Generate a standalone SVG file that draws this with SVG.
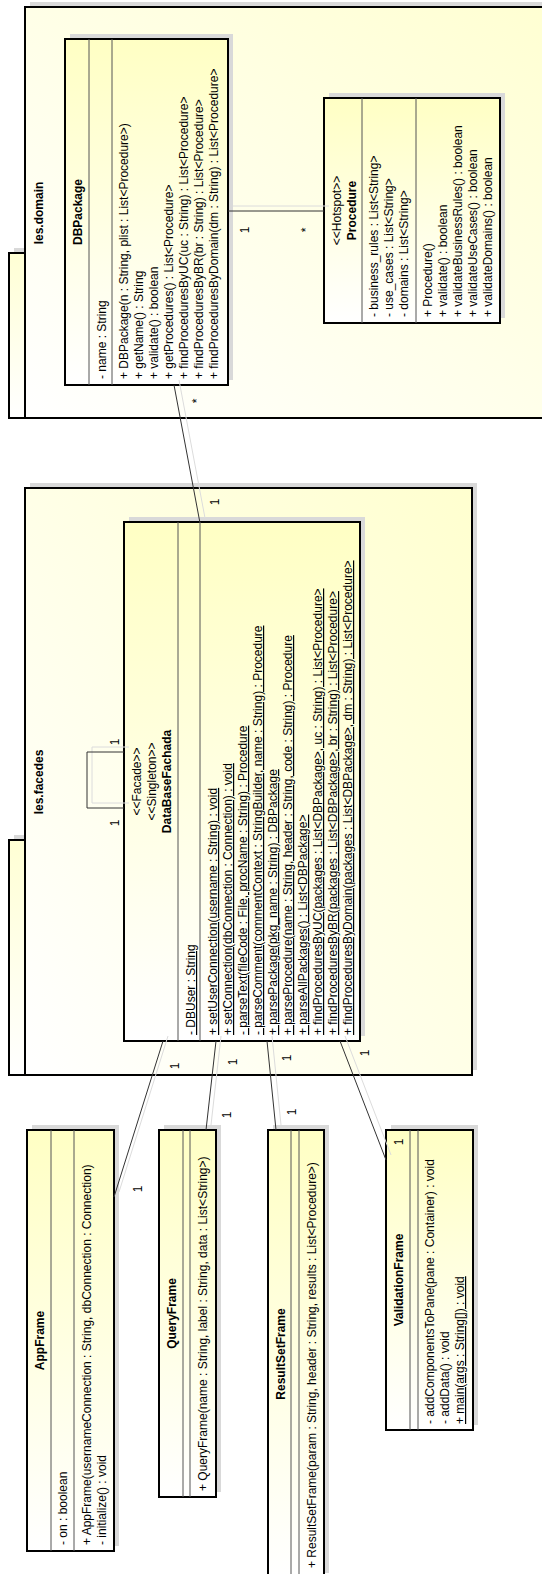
<svg xmlns="http://www.w3.org/2000/svg" width="542" height="1574" viewBox="0 0 542 1574">
<defs>
<linearGradient id="gp" x1="0" y1="0" x2="1" y2="1"><stop offset="0" stop-color="#ffffff"/><stop offset="1" stop-color="#ffffcf"/></linearGradient>
<linearGradient id="gt" x1="0" y1="0" x2="1" y2="0"><stop offset="0" stop-color="#ffffff"/><stop offset="1" stop-color="#ffffd4"/></linearGradient>
<linearGradient id="gc" x1="0" y1="0" x2="1" y2="0"><stop offset="0" stop-color="#ffffff"/><stop offset="1" stop-color="#ffffc4"/></linearGradient>
<style>
text{font-family:"Liberation Sans",Arial,sans-serif;font-size:12px;fill:#000}
.n{font-weight:bold;text-anchor:middle}
.s{text-anchor:middle}
.u{text-decoration:underline}
.pk{fill:url(#gp);stroke:#000;stroke-width:2}
.tab{fill:url(#gt);stroke:#000;stroke-width:2}
.cl{fill:url(#gc);stroke:#000;stroke-width:2}
.sh{fill:#d9d9d9;stroke:none}
.dv{stroke:#555;stroke-width:1}
.c{stroke:#333;stroke-width:1;fill:none}
.cs{stroke:#dcdcdc;stroke-width:1;fill:none}
</style>
</defs>
<g transform="translate(0,1574) rotate(-90)">
<g id="pkg-domain">
<rect class="sh" x="1161" y="14" width="165" height="16"/>
<rect class="sh" x="1161" y="30" width="411" height="600"/>
<rect class="tab" x="1156" y="9" width="165" height="16"/>
<rect class="pk" x="1156" y="25" width="411" height="600"/>
<text class="n" x="1361" y="43">les.domain</text>
</g>
<g id="pkg-facedes">
<rect class="sh" x="504" y="14" width="235" height="16"/>
<rect class="sh" x="504" y="30" width="587" height="447"/>
<rect class="tab" x="499" y="9" width="235" height="16"/>
<rect class="pk" x="499" y="25" width="587" height="447"/>
<text class="n" x="792" y="43">les.facedes</text>
</g>
<g id="DBPackage">
<rect class="sh" x="1194" y="70" width="346" height="163"/>
<rect class="cl" x="1189" y="65" width="346" height="163"/>
<line class="dv" x1="1189" y1="89" x2="1535" y2="89"/>
<line class="dv" x1="1189" y1="112" x2="1535" y2="112"/>
<text class="n" x="1362" y="82">DBPackage</text>
<text x="1195" y="106">- name : String</text>
<text x="1195" y="128">+ DBPackage(n : String, plist : List&lt;Procedure&gt;)</text>
<text x="1195" y="143">+ getName() : String</text>
<text x="1195" y="158">+ validate() : boolean</text>
<text x="1195" y="173">+ getProcedures() : List&lt;Procedure&gt;</text>
<text x="1195" y="188">+ findProceduresByUC(uc : String) : List&lt;Procedure&gt;</text>
<text x="1195" y="203">+ findProceduresByBR(br : String) : List&lt;Procedure&gt;</text>
<text x="1195" y="218">+ findProceduresByDomain(dm : String) : List&lt;Procedure&gt;</text>
</g>
<g id="Procedure">
<rect class="sh" x="1256" y="329" width="225" height="176"/>
<rect class="cl" x="1251" y="324" width="225" height="176"/>
<line class="dv" x1="1251" y1="362" x2="1476" y2="362"/>
<line class="dv" x1="1251" y1="416" x2="1476" y2="416"/>
<text class="s" x="1363.5" y="341">&lt;&lt;Hotspot&gt;&gt;</text>
<text class="n" x="1363.5" y="356">Procedure</text>
<text x="1257" y="378">- business_rules : List&lt;String&gt;</text>
<text x="1257" y="393">- use_cases : List&lt;String&gt;</text>
<text x="1257" y="408">- domains : List&lt;String&gt;</text>
<text x="1257" y="432">+ Procedure()</text>
<text x="1257" y="447">+ validate() : boolean</text>
<text x="1257" y="462">+ validateBusinessRules() : boolean</text>
<text x="1257" y="477">+ validateUseCases() : boolean</text>
<text x="1257" y="492">+ validateDomains() : boolean</text>
</g>
<g id="DataBaseFachada">
<rect class="sh" x="538" y="129" width="519" height="236"/>
<rect class="cl" x="533" y="124" width="519" height="236"/>
<line class="dv" x1="533" y1="178" x2="1052" y2="178"/>
<line class="dv" x1="533" y1="200" x2="1052" y2="200"/>
<text class="s" x="792.5" y="141">&lt;&lt;Facade&gt;&gt;</text>
<text class="s" x="792.5" y="156">&lt;&lt;Singleton&gt;&gt;</text>
<text class="n" x="792.5" y="171">DataBaseFachada</text>
<text class="u" x="539" y="195">- DBUser : String</text>
<text class="u" x="539" y="217">+ setUserConnection(username : String) : void</text>
<text class="u" x="539" y="232">+ setConnection(dbConnection : Connection) : void</text>
<text class="u" x="539" y="247">- parseText(fileCode : File, procName : String) : Procedure</text>
<text class="u" x="539" y="262">- parseComment(commentContext : StringBuilder, name : String) : Procedure</text>
<text class="u" x="539" y="277">+ parsePackage(pkg_name : String) : DBPackage</text>
<text class="u" x="539" y="292">+ parseProcedure(name : String, header : String, code : String) : Procedure</text>
<text class="u" x="539" y="307">+ parseAllPackages() : List&lt;DBPackage&gt;</text>
<text class="u" x="539" y="322">+ findProceduresByUC(packages : List&lt;DBPackage&gt;, uc : String) : List&lt;Procedure&gt;</text>
<text class="u" x="539" y="337">+ findProceduresByBR(packages : List&lt;DBPackage&gt;, br : String) : List&lt;Procedure&gt;</text>
<text class="u" x="539" y="352">+ findProceduresByDomain(packages : List&lt;DBPackage&gt;, dm : String) : List&lt;Procedure&gt;</text>
</g>
<g id="AppFrame">
<rect class="sh" x="28" y="32" width="421" height="87"/>
<rect class="cl" x="23" y="27" width="421" height="87"/>
<line class="dv" x1="23" y1="51" x2="444" y2="51"/>
<line class="dv" x1="23" y1="74" x2="444" y2="74"/>
<text class="n" x="233.5" y="44">AppFrame</text>
<text x="29" y="67">- on : boolean</text>
<text x="29" y="91">+ AppFrame(usernameConnection : String, dbConnection : Connection)</text>
<text x="29" y="106">- initialize() : void</text>
</g>
<g id="QueryFrame">
<rect class="sh" x="82" y="164" width="367" height="57"/>
<rect class="cl" x="77" y="159" width="367" height="57"/>
<line class="dv" x1="77" y1="183" x2="444" y2="183"/>
<line class="dv" x1="77" y1="190" x2="444" y2="190"/>
<text class="n" x="260.5" y="176">QueryFrame</text>
<text x="83" y="207">+ QueryFrame(name : String, label : String, data : List&lt;String&gt;)</text>
</g>
<g id="ResultSetFrame">
<rect class="sh" x="1" y="273" width="448" height="56"/>
<rect class="cl" x="-4" y="268" width="448" height="56"/>
<line class="dv" x1="-4" y1="291" x2="444" y2="291"/>
<line class="dv" x1="-4" y1="299" x2="444" y2="299"/>
<text class="n" x="220" y="285">ResultSetFrame</text>
<text x="6" y="316">+ ResultSetFrame(param : String, header : String, results : List&lt;Procedure&gt;)</text>
</g>
<g id="ValidationFrame">
<rect class="sh" x="149" y="391" width="300" height="87"/>
<rect class="cl" x="144" y="386" width="300" height="87"/>
<line class="dv" x1="144" y1="410" x2="444" y2="410"/>
<line class="dv" x1="144" y1="418" x2="444" y2="418"/>
<text class="n" x="294" y="403">ValidationFrame</text>
<text x="150" y="434">- addComponentsToPane(pane : Container) : void</text>
<text x="150" y="449">- addData() : void</text>
<text class="u" x="150" y="464">+ main(args : String[]) : void</text>
</g>
<g id="connectors">
<line class="cs" x1="1368" y1="233" x2="1368" y2="329"/>
<line class="cs" x1="1194" y1="179" x2="1056" y2="205"/>
<polyline class="cs" points="827,129 827,92 771,92 771,129"/>
<line class="cs" x1="538" y1="168" x2="382" y2="119"/>
<line class="cs" x1="538" y1="221" x2="449" y2="211"/>
<line class="cs" x1="538" y1="272" x2="449" y2="281"/>
<line class="cs" x1="538" y1="345" x2="419" y2="391"/>
<line class="c" x1="1363" y1="228" x2="1363" y2="324"/>
<line class="c" x1="1189" y1="174" x2="1051" y2="200"/>
<polyline class="c" points="822,124 822,87 766,87 766,124"/>
<line class="c" x1="533" y1="163" x2="377" y2="114"/>
<line class="c" x1="533" y1="216" x2="444" y2="206"/>
<line class="c" x1="533" y1="267" x2="444" y2="276"/>
<line class="c" x1="533" y1="340" x2="414" y2="386"/>
<text class="s" x="1344" y="249">1</text>
<text class="s" x="1344" y="310">*</text>
<text class="s" x="1173" y="201">*</text>
<text class="s" x="1072" y="219">1</text>
<text class="s" x="832" y="119">1</text>
<text class="s" x="751" y="119">1</text>
<text class="s" x="508" y="179">1</text>
<text class="s" x="385" y="142">1</text>
<text class="s" x="512" y="237">1</text>
<text class="s" x="459" y="231">1</text>
<text class="s" x="516" y="291">1</text>
<text class="s" x="462" y="296">1</text>
<text class="s" x="521" y="369">1</text>
<text class="s" x="432" y="403">1</text>
</g>
</g>
</svg>
